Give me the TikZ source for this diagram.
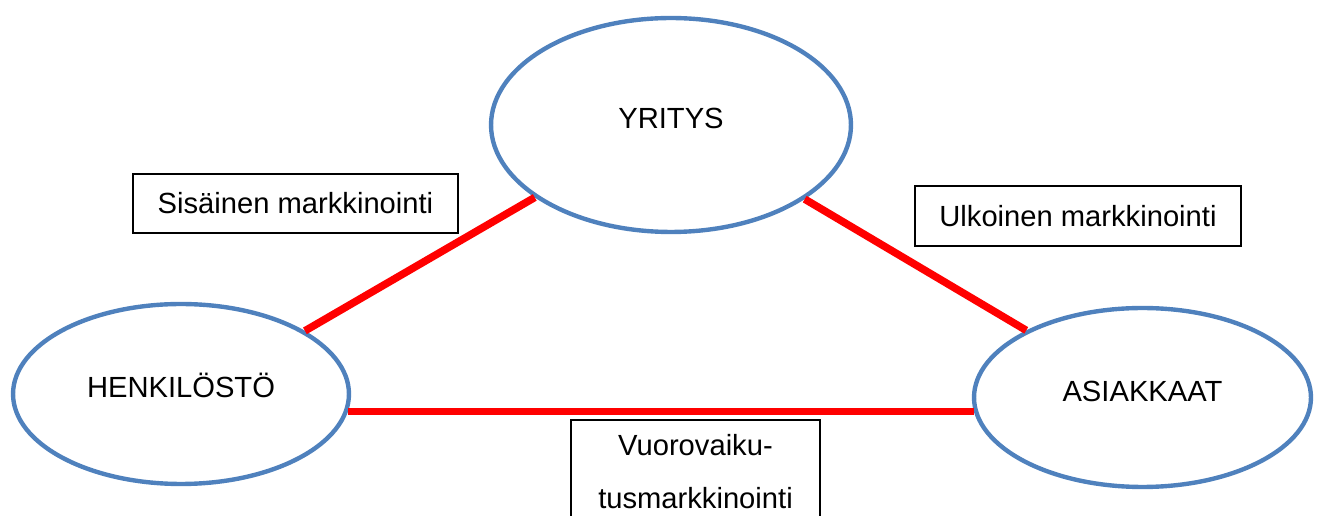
\documentclass[tikz,border=0pt]{standalone}
\usepackage{fontspec}
\setmainfont{Liberation Sans}
\usetikzlibrary{shapes.geometric}
\definecolor{ovalblue}{HTML}{4F81BD}
\begin{document}
\begin{tikzpicture}[x=0.02cm,y=-0.02cm,
		oval/.style={ellipse, draw=ovalblue, line width=2.5pt, font=\fontsize{16.6}{20}\selectfont, text height=12pt, text depth=8pt},
		labelbox/.style={draw, line width=0.9pt, font=\fontsize{16.6}{30}\selectfont},
		link/.style={red, line width=4.3pt}]
		\useasboundingbox (0,0) rectangle (1320,516);
		\clip (0,0) rectangle (1320,516);
		\node[oval, minimum width=7.2cm, minimum height=4.28cm] (yri) at (671,125) {YRITYS};
		\node[oval, minimum width=6.72cm, minimum height=3.6cm] (hen) at (181,394) {HENKILÖSTÖ};
		\node[oval, minimum width=6.74cm, minimum height=3.58cm] (asi) at (1142.5,397.5) {ASIAKKAAT};
		\node[labelbox, minimum width=6.5cm, minimum height=1.18cm] (sis) at (295.5,203.5) {Sisäinen markkinointi};
		\node[labelbox, minimum width=6.52cm, minimum height=1.2cm] (ulk) at (1078,216) {Ulkoinen markkinointi};
		\node[labelbox, anchor=north, minimum width=4.98cm, inner ysep=8.5pt, align=center] (vuo) at (695.5,419) {Vuorovaiku-\\tusmarkkinointi};
		\draw[link] (hen.27) -- (yri.208);
		\draw[link] (yri.331) -- (asi.150);
		\draw[link] (hen.354) -- (hen.354 -| asi.185);
	\end{tikzpicture}
\end{document}
